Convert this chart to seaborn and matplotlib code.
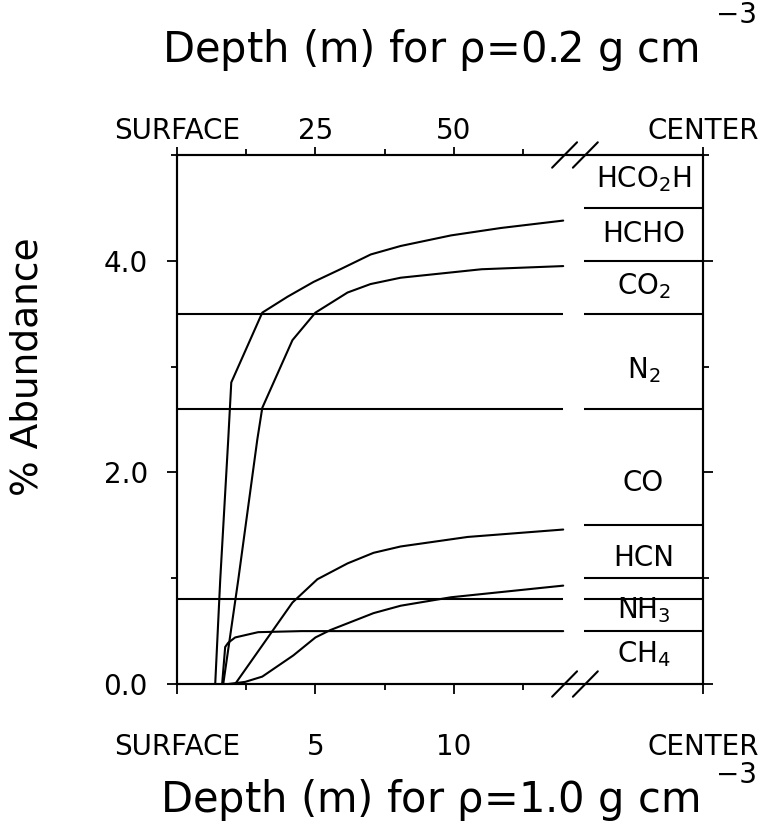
import matplotlib
matplotlib.use("Agg")
import matplotlib.pyplot as plt
import pandas as pd
import seaborn as sns

# abundance curves (depth in m for rho=1.0, % abundance)
depth_a = [1.38, 1.56, 1.85, 1.96, 3.08, 3.99, 4.93, 5.9, 7.0, 8.08, 9.9, 11.7, 13.95]
abund_a = [0.0, 0.98, 2.31, 2.85, 3.51, 3.66, 3.80, 3.92, 4.06, 4.14, 4.24, 4.31, 4.38]

depth_b = [1.67, 2.21, 2.9, 3.08, 4.17, 5.0, 6.16, 6.99, 8.08, 11.0, 13.95]
abund_b = [0.0, 0.98, 2.31, 2.61, 3.25, 3.51, 3.70, 3.78, 3.84, 3.92, 3.95]

depth_c = [2.1, 4.17, 5.07, 6.16, 7.1, 8.08, 10.5, 13.95]
abund_c = [0.0, 0.77, 0.99, 1.14, 1.24, 1.30, 1.39, 1.46]

depth_d = [1.85, 2.46, 3.08, 4.2, 5.0, 5.54, 7.1, 8.08, 9.9, 13.95]
abund_d = [0.0, 0.02, 0.07, 0.27, 0.44, 0.51, 0.67, 0.74, 0.82, 0.93]

depth_ch4 = [1.63, 1.74, 1.85, 2.1, 2.93, 4.5, 13.95]
abund_ch4 = [0.0, 0.35, 0.39, 0.44, 0.49, 0.50, 0.50]

# constant levels in the depth part
const_levels = [0.8, 2.6, 3.5]
depth_end = 13.95

# stacked composition at the center
center_edges = [0.5, 0.8, 1.0, 1.5, 2.6, 3.5, 4.0, 4.5]
species = [r"HCO$_2$H", "HCHO", r"CO$_2$", r"N$_2$", "CO", "HCN", r"NH$_3$", r"CH$_4$"]
species_y = [4.77, 4.25, 3.76, 2.97, 1.90, 1.19, 0.70, 0.28]

bottom_ticks = [0, 5, 10, 19]
bottom_labels = ["SURFACE", "5", "10", "CENTER"]
top_labels = ["SURFACE", "25", "50", "CENTER"]
minor_x = [2.5, 7.5, 12.5]

sns.set_style("ticks")
plt.rcParams['font.family'] = ['DejaVu Sans']
plt.rcParams['mathtext.default'] = 'regular'
for key in ['text.color', 'axes.labelcolor', 'xtick.color', 'ytick.color', 'axes.edgecolor']:
    plt.rcParams[key] = 'black'

fig = plt.figure(figsize=(7.61, 8.27), dpi=100)
ax = fig.add_axes([0.2326, 0.1729, 0.6912, 0.6397])

#build one table for all curves
frames = []
for name, d, a in [("a", depth_a, abund_a), ("b", depth_b, abund_b),
                   ("c", depth_c, abund_c), ("d", depth_d, abund_d),
                   ("ch4", depth_ch4, abund_ch4)]:
    frames.append(pd.DataFrame({"depth": d, "abundance": a, "curve": name}))
df = pd.concat(frames, ignore_index=True)

sns.lineplot(data=df, x="depth", y="abundance", units="curve", estimator=None,
             sort=False, color="black", lw=1.5, ax=ax, legend=False)

ax.hlines(const_levels, 0, depth_end, color="black", lw=1.5)
ax.hlines(center_edges, 14.7, 19, color="black", lw=1.5)

for lab, y in zip(species, species_y):
    ax.text(16.85, y, lab, ha="center", va="center", fontsize=20)

ax.set_xlim(0, 19)
ax.set_ylim(0, 5)
ax.set_xticks(bottom_ticks)
ax.set_xticklabels(bottom_labels)
ax.set_xticks(minor_x, minor=True)
ax.set_yticks([0, 2, 4])
ax.set_yticklabels(["0.0", "2.0", "4.0"])
ax.set_yticks([1, 3, 5], minor=True)
ax.set_xlabel("")
ax.set_ylabel("% Abundance", fontsize=27)
ax.yaxis.set_label_coords(-0.25, 0.60)

for s in ax.spines.values():
    s.set_linewidth(1.5)
ax.tick_params(which="both", direction="out", right=True, width=1.3, labelsize=20)
ax.tick_params(which="major", length=7)
ax.tick_params(which="minor", length=4)
ax.tick_params(axis="x", pad=28)
ax.tick_params(axis="y", pad=14)

#top axis for the low density case
ax2 = ax.twiny()
ax2.set_xlim(ax.get_xlim())
ax2.set_xticks(bottom_ticks)
ax2.set_xticklabels(top_labels)
ax2.set_xticks(minor_x, minor=True)
ax2.tick_params(which="both", direction="out", width=1.3, labelsize=20, pad=1)
ax2.tick_params(which="major", length=6)
ax2.tick_params(which="minor", length=4)
for s in ax2.spines.values():
    s.set_linewidth(1.5)

#axis break marks
for yb in [0, 5]:
    for x0 in [13.55, 14.3]:
        ax.plot([x0, x0 + 0.9], [yb - 0.12, yb + 0.12], color="black",
                lw=1.5, clip_on=False)

fig.text(0.565, 0.939, r"Depth (m) for $\rho$=0.2 g cm", ha="center",
         va="center", fontsize=30)
fig.text(0.968, 0.982, "\u22123", ha="center", va="center", fontsize=20)
fig.text(0.565, 0.033, r"Depth (m) for $\rho$=1.0 g cm", ha="center",
         va="center", fontsize=30)
fig.text(0.968, 0.063, "\u22123", ha="center", va="center", fontsize=20)

plt.savefig("out.png", dpi=100)
